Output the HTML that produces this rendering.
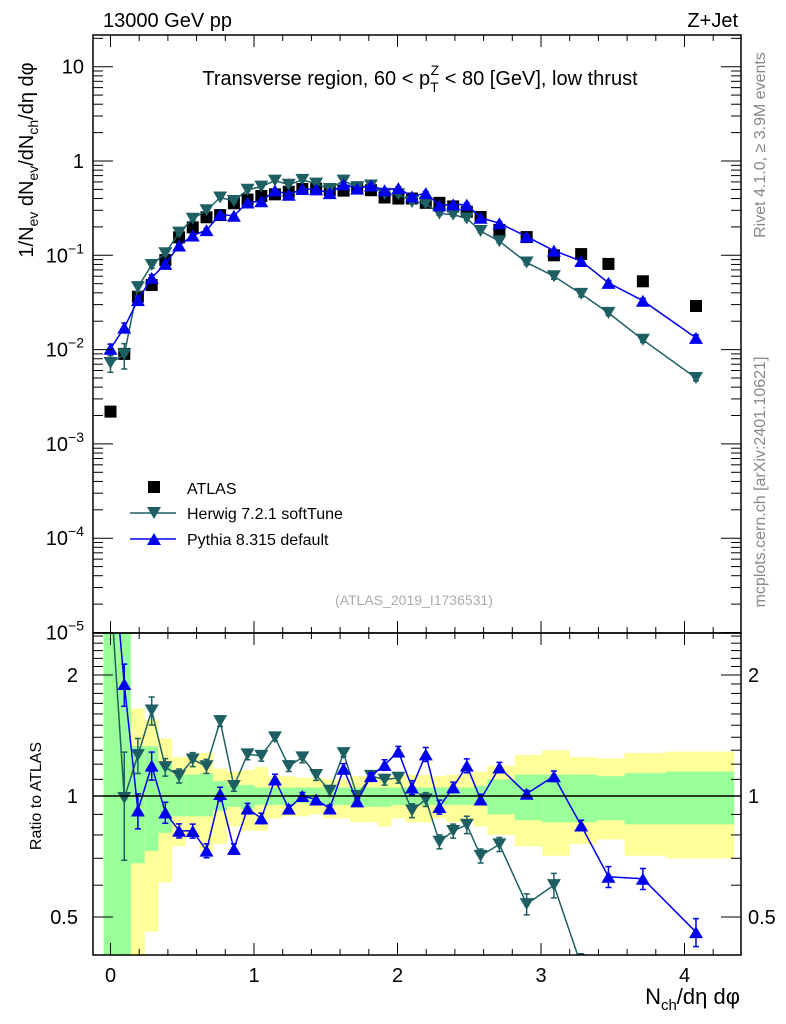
<!DOCTYPE html>
<html><head><meta charset="utf-8">
<style>
html,body{margin:0;padding:0;background:#fff;width:786px;height:1024px;overflow:hidden;}
svg{display:block;font-family:"Liberation Sans",sans-serif;}
</style></head>
<body>
<svg id="chartSvg" width="786" height="1024" viewBox="0 0 786 1024" xmlns="http://www.w3.org/2000/svg">
<defs>
<clipPath id="clipMain"><rect x="93" y="35" width="648" height="598"/></clipPath>
<clipPath id="clipRatio"><rect x="93" y="633" width="648" height="322"/></clipPath>
</defs>
<g id="gBands" clip-path="url(#clipRatio)"></g>
<g id="gMarks"></g>
<g id="gAxes"></g>
<text x="103" y="27" font-size="20">13000 GeV pp</text>
<text x="738" y="27" font-size="20" text-anchor="end">Z+Jet</text>
<text x="420" y="85" font-size="20" text-anchor="middle">Transverse region, 60 &lt; p<tspan font-size="14" dy="7">T</tspan><tspan font-size="14" dx="-8" dy="-17">Z</tspan><tspan dy="10"> &lt; 80 [GeV], low thrust</tspan></text>
<text transform="translate(33,160) rotate(-90)" font-size="20" text-anchor="middle">1/N<tspan font-size="14" dy="5">ev</tspan><tspan dy="-5"> dN</tspan><tspan font-size="14" dy="5">ev</tspan><tspan dy="-5">/dN</tspan><tspan font-size="14" dy="5">ch</tspan><tspan dy="-5">/dη dφ</tspan></text>
<text transform="translate(41,796) rotate(-90)" font-size="16" text-anchor="middle">Ratio to ATLAS</text>
<text transform="translate(765,145) rotate(-90)" font-size="16" fill="#888" text-anchor="middle">Rivet 4.1.0, ≥ 3.9M events</text>
<text transform="translate(765,482) rotate(-90)" font-size="16" fill="#888" text-anchor="middle">mcplots.cern.ch [arXiv:2401.10621]</text>
<text x="414" y="605" font-size="14" fill="#aaa" text-anchor="middle">(ATLAS_2019_I1736531)</text>
<text x="740" y="1004" font-size="22" text-anchor="end">N<tspan font-size="15" dy="6">ch</tspan><tspan dy="-6">/dη dφ</tspan></text>
<g>
<rect x="148" y="481" width="12" height="12" fill="#000"/>
<text x="187" y="494" font-size="16">ATLAS</text>
<line x1="130" y1="513" x2="176" y2="513" stroke="#1d5f63" stroke-width="1.5"/>
<path d="M147,507 L161,507 L154,519 Z" fill="#1d5f63"/>
<text x="187" y="519" font-size="16">Herwig 7.2.1 softTune</text>
<line x1="130" y1="539" x2="176" y2="539" stroke="#0000ee" stroke-width="1.5"/>
<path d="M147,545 L161,545 L154,533 Z" fill="#0000ee"/>
<text x="187" y="545" font-size="16">Pythia 8.315 default</text>
</g>
</svg>
<script>
var xVals=[0,0.096,0.191,0.287,0.382,0.478,0.573,0.669,0.764,0.86,0.955,1.051,1.146,1.242,1.337,1.433,1.528,1.624,1.719,1.815,1.91,2.006,2.101,2.197,2.292,2.388,2.483,2.579,2.71,2.90,3.09,3.28,3.47,3.71,4.08];
var binEdges=[-0.048,0.048,0.143,0.239,0.334,0.43,0.525,0.621,0.716,0.812,0.907,1.003,1.098,1.194,1.289,1.385,1.48,1.576,1.671,1.767,1.862,1.958,2.053,2.149,2.244,2.34,2.435,2.531,2.627,2.818,3.009,3.2,3.391,3.582,3.868,4.346];
var atlas=[0.0022,0.0090,0.0364,0.0484,0.089,0.155,0.198,0.253,0.267,0.356,0.39,0.425,0.443,0.472,0.505,0.51,0.49,0.485,0.526,0.49,0.41,0.40,0.40,0.36,0.36,0.33,0.29,0.255,0.186,0.156,0.10,0.103,0.081,0.053,0.029];
var herwig=[0.0072,0.0089,0.046,0.079,0.105,0.174,0.244,0.30,0.41,0.377,0.495,0.535,0.62,0.56,0.63,0.575,0.505,0.62,0.526,0.55,0.45,0.444,0.368,0.353,0.277,0.27,0.246,0.181,0.141,0.084,0.060,0.039,0.0245,0.0127,0.005];
var pythia=[0.0102,0.0171,0.0335,0.0576,0.081,0.127,0.162,0.185,0.27,0.263,0.363,0.374,0.487,0.439,0.505,0.50,0.456,0.567,0.51,0.549,0.49,0.516,0.42,0.457,0.338,0.347,0.345,0.25,0.219,0.158,0.112,0.087,0.051,0.033,0.0133];
var herwigErr=[0.2,0.3,0.1,0.08,0.05,0.04,0.04,0.04,0.03,0.03,0.03,0.03,0.02,0.03,0.03,0.03,0.03,0.02,0.02,0.02,0.03,0.03,0.04,0.04,0.04,0.04,0.05,0.04,0.04,0.06,0.07,0.07,0.06,0.06,0.07];
var pythiaErr=[0.12,0.12,0.1,0.08,0.06,0.04,0.04,0.04,0.04,0.03,0.03,0.03,0.03,0.02,0.02,0.02,0.02,0.03,0.02,0.02,0.03,0.03,0.04,0.04,0.04,0.03,0.04,0.03,0.03,0.02,0.03,0.03,0.06,0.06,0.08];
var greenLo=[0.1,0.1,0.68,0.73,0.81,0.89,0.89,0.89,0.92,0.94,0.93,0.95,0.95,0.95,0.96,0.96,0.95,0.95,0.95,0.94,0.94,0.95,0.95,0.95,0.95,0.95,0.95,0.95,0.90,0.87,0.86,0.86,0.87,0.85,0.85];
var greenHi=[10,10,1.33,1.33,1.21,1.13,1.13,1.14,1.09,1.065,1.065,1.05,1.05,1.05,1.05,1.05,1.05,1.05,1.05,1.05,1.05,1.05,1.05,1.05,1.05,1.05,1.05,1.06,1.10,1.13,1.13,1.13,1.12,1.14,1.15];
var yellowLo=[0.1,0.1,0.1,0.46,0.61,0.75,0.79,0.73,0.76,0.84,0.82,0.82,0.88,0.89,0.89,0.9,0.88,0.88,0.86,0.86,0.84,0.88,0.86,0.86,0.88,0.86,0.86,0.84,0.80,0.75,0.71,0.76,0.78,0.71,0.70];
var yellowHi=[10,10,1.65,1.55,1.39,1.25,1.25,1.28,1.17,1.15,1.16,1.18,1.12,1.12,1.11,1.11,1.1,1.1,1.12,1.12,1.13,1.12,1.13,1.13,1.12,1.13,1.14,1.15,1.19,1.265,1.30,1.25,1.24,1.28,1.29];
var xTicks=[0,1,2,3,4];
var mainTickExp=[1,0,-1,-2,-3,-4,-5];
var ratioTicks=[2,1,0.5];

(function(){
var SVGNS="http://www.w3.org/2000/svg";
var PL=93,PR=741,PT=35,PM=633,PB=955;
function sx(v){return 110.5+v*143.5;}
function sym(v){return 161-Math.log(v)/Math.LN10*94.3;}
function syr(r){return 796-Math.log(r)/Math.LN2*121;}
function mk(tag,attrs,parent){var e=document.createElementNS(SVGNS,tag);for(var k in attrs){e.setAttribute(k,String(attrs[k]));}parent.appendChild(e);return e;}
var gB=document.getElementById('gBands'),gM=document.getElementById('gMarks'),gA=document.getElementById('gAxes');
var i;
for(i=0;i<xVals.length;i++){
  var x0=sx(binEdges[i]),x1=sx(binEdges[i+1]);
  var yb=mk('rect',{x:x0,y:syr(yellowHi[i]),width:x1-x0,height:syr(yellowLo[i])-syr(yellowHi[i]),fill:'#ffff99'},gB);
  
  
  var gb=mk('rect',{x:x0,y:syr(greenHi[i]),width:x1-x0,height:syr(greenLo[i])-syr(greenHi[i]),fill:'#99ff99'},gB);
  
  
}
mk('line',{x1:PL,x2:PR,y1:syr(1),y2:syr(1),stroke:'#000','stroke-width':1.5},gA);

function drawSeries(vals,errs,color,down,name){
  var gm=mk('g',{'clip-path':'url(#clipMain)'},gM);
  
  
  var gr=mk('g',{'clip-path':'url(#clipRatio)'},gM);
  
  
  var pm='',pr='',j;
  for(j=0;j<vals.length;j++){pm+=(j?'L':'M')+sx(xVals[j])+','+sym(vals[j]);pr+=(j?'L':'M')+sx(xVals[j])+','+syr(vals[j]/atlas[j]);}
  mk('path',{d:pm,fill:'none',stroke:color,'stroke-width':1.5},gm);
  mk('path',{d:pr,fill:'none',stroke:color,'stroke-width':1.5},gr);
  for(j=0;j<vals.length;j++){
    var x=sx(xVals[j]),v=vals[j],r=v/atlas[j],e=errs[j];
    var sets=[[gm,sym(v),sym(v*(1+e)),sym(v*(1-e))],[gr,syr(r),syr(r*(1+e)),syr(r*(1-e))]];
    for(var s=0;s<2;s++){
      var g=sets[s][0],y=sets[s][1],yh=sets[s][2],yl=sets[s][3];
      mk('path',{d:'M'+x+','+yh+'L'+x+','+yl+'M'+(x-3)+','+yh+'L'+(x+3)+','+yh+'M'+(x-3)+','+yl+'L'+(x+3)+','+yl,stroke:color,'stroke-width':1.5,fill:'none'},g);
      var dd=down?('M'+(x-7)+','+(y-6)+'L'+(x+7)+','+(y-6)+'L'+x+','+(y+6)+'Z'):('M'+(x-7)+','+(y+6)+'L'+(x+7)+','+(y+6)+'L'+x+','+(y-6)+'Z');
      var m=mk('path',{d:dd,fill:color},g);
      
      
    }
  }
}
var ga=mk('g',{'clip-path':'url(#clipMain)'},gM);


for(i=0;i<atlas.length;i++){
  var sq=mk('rect',{x:sx(xVals[i])-6,y:sym(atlas[i])-6,width:12,height:12,fill:'#000'},ga);
  
  
}
drawSeries(herwig,herwigErr,'#1d5f63',true,'herwig');
drawSeries(pythia,pythiaErr,'#0000ee',false,'pythia');

mk('rect',{x:PL,y:PT,width:PR-PL,height:PM-PT,fill:'none',stroke:'#000','stroke-width':1.5},gA);
mk('rect',{x:PL,y:PM,width:PR-PL,height:PB-PM,fill:'none',stroke:'#000','stroke-width':1.5},gA);
for(var k=0;k<=22;k++){
  var xv=k*0.2, xx=sx(xv); if(xx<PL||xx>PR)continue;
  var len=(k%5===0)?12:6;
  mk('line',{x1:xx,x2:xx,y1:PT,y2:PT+len,stroke:'#000'},gA);
  mk('line',{x1:xx,x2:xx,y1:PM,y2:PM+len,stroke:'#000'},gA);
  mk('line',{x1:xx,x2:xx,y1:PM,y2:PM-len,stroke:'#000'},gA);
  mk('line',{x1:xx,x2:xx,y1:PB,y2:PB-len,stroke:'#000'},gA);
}
for(i=0;i<xTicks.length;i++){
  var t=mk('text',{x:sx(xTicks[i]),y:982,'font-size':20,'text-anchor':'middle'},gA);t.textContent=String(xTicks[i]);
  
  
}
for(var ex=-5;ex<=1;ex++){
  for(var mm=1;mm<10;mm++){
    var yy=sym(mm*Math.pow(10,ex)); if(yy<PT||yy>PM)continue;
    var ln=mm===1?20:10;
    mk('line',{x1:PL,x2:PL+ln,y1:yy,y2:yy,stroke:'#000'},gA);
    mk('line',{x1:PR,x2:PR-ln,y1:yy,y2:yy,stroke:'#000'},gA);
  }
}
for(i=0;i<mainTickExp.length;i++){
  var ee=mainTickExp[i];
  var tl=mk('text',{x:84,y:sym(Math.pow(10,ee))+7,'font-size':20,'text-anchor':'end'},gA);
  
  
  if(ee===1)tl.textContent='10';else if(ee===0)tl.textContent='1';
  else{tl.textContent='10';var sp=document.createElementNS(SVGNS,'tspan');sp.setAttribute('font-size','14');sp.setAttribute('dy','-9');sp.textContent='\u2212'+(-ee);tl.appendChild(sp);}
}
var rt=[0.5,0.6,0.7,0.8,0.9,1,1.1,1.2,1.3,1.4,1.5,1.6,1.7,1.8,1.9,2,2.1,2.2,2.3,2.4,2.5];
for(i=0;i<rt.length;i++){
  var y2=syr(rt[i]); if(y2<PM||y2>PB)continue;
  var l2=(rt[i]===0.5||rt[i]===1||rt[i]===2)?20:10;
  mk('line',{x1:PL,x2:PL+l2,y1:y2,y2:y2,stroke:'#000'},gA);
  mk('line',{x1:PR,x2:PR-l2,y1:y2,y2:y2,stroke:'#000'},gA);
}
for(i=0;i<ratioTicks.length;i++){
  var t1=mk('text',{x:78,y:syr(ratioTicks[i])+7,'font-size':20,'text-anchor':'end'},gA);t1.textContent=String(ratioTicks[i]);
  
  
  var t2=mk('text',{x:748,y:syr(ratioTicks[i])+7,'font-size':20},gA);t2.textContent=String(ratioTicks[i]);
  
  
}
})();
</script>
</body></html>
